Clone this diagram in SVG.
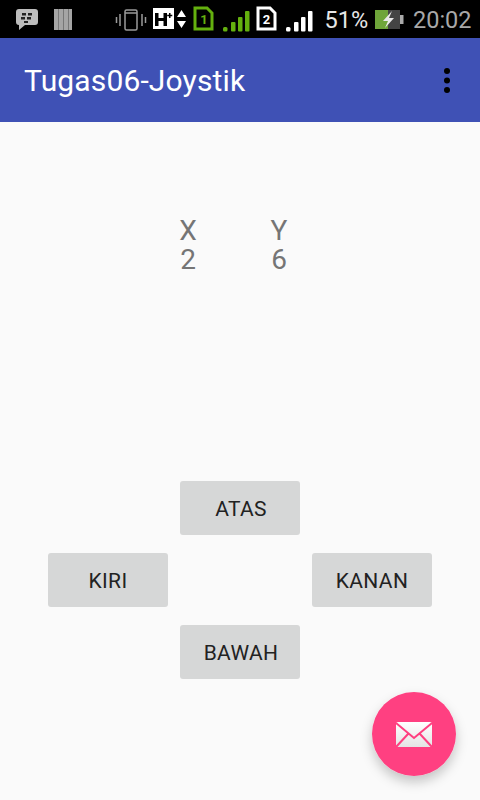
<svg xmlns="http://www.w3.org/2000/svg" width="480" height="800" viewBox="0 0 480 800">
<style>
text{font-family:Roboto,"Liberation Sans",sans-serif}
.btn{fill:#d6d7d7}
.bt{font-size:21px;fill:#222;text-anchor:middle;letter-spacing:.35px}
.val{font-size:28px;fill:#757575;text-anchor:middle}
.st{fill:#fff}
.g{fill:#64b00e}
</style>
<defs>
<filter id="sh" x="-30%" y="-30%" width="160%" height="170%"><feDropShadow dx="0" dy="6" stdDeviation="6" flood-color="#000" flood-opacity=".22"/></filter>
<linearGradient id="env" x1="0" y1="0" x2="0" y2="1"><stop offset="0" stop-color="#fff"/><stop offset="1" stop-color="#e4e4e4"/></linearGradient>
</defs>
<rect width="480" height="800" fill="#fafafa"/>
<g id="statusbar">
<rect width="480" height="38" fill="#000"/>
<path d="M19 9h16q3 0 3 3v10q0 3-3 3H25l-6 5v-5q-3 0-3-3V12q0-3 3-3z" fill="#bdbdbd"/>
<g fill="#222"><rect x="22" y="13" width="4" height="2.500"/><rect x="28" y="13" width="4" height="2.500"/><rect x="21" y="17" width="4" height="2.500"/><rect x="27" y="17" width="4" height="2.500"/><rect x="24" y="21" width="4" height="2"/></g>
<rect x="54" y="9" width="18" height="21" fill="#a5a5a5"/>
<g fill="#777"><rect x="58" y="9" width="1" height="21"/><rect x="63" y="9" width="1" height="21"/><rect x="68" y="9" width="1" height="21"/></g>
<g fill="none" stroke="#9a9a9a" stroke-width="1.500"><rect x="125" y="10" width="12" height="20" rx="1.500"/><path d="M120 14v12M116.500 17v6M142 14v12M145.500 17v6"/><path d="M125 13h12"/></g>
<rect x="153" y="8" width="21" height="21" fill="#fff"/>
<path d="M155 13h3.500v5h5v-5h3.500v13h-3.500v-5h-5v5H155z" fill="#000"/>
<path d="M169 13h1.500v1.800h1.800v1.500h-1.800v1.800H169v-1.800h-1.800v-1.500h1.800z" fill="#000"/>
<path d="M181.500 10l4.500 7h-9zM181.500 28l4.500-7h-9z" class="st"/>
<path d="M195 8h12l5 5v16h-17z" fill="none" stroke="#64b00e" stroke-width="3"/>
<text x="204" y="24" font-size="13" font-weight="700" class="g" text-anchor="middle">1</text>
<rect x="223" y="27" width="4.500" height="4.500" rx="1.500" class="g"/><rect x="231" y="22" width="4.500" height="9.500" rx="1" class="g"/><rect x="238" y="17" width="4.500" height="14.500" rx="1" class="g"/><rect x="245" y="11" width="4.500" height="20.500" rx="1" class="g"/>
<path d="M258 8h12l5 5v16h-17z" fill="#000" stroke="#fff" stroke-width="3"/>
<text x="266.500" y="24" font-size="13" font-weight="700" fill="#fff" text-anchor="middle">2</text>
<rect x="286" y="27" width="4.500" height="4.500" rx="1.500" class="st"/><rect x="294" y="22" width="4.500" height="9.500" rx="1" class="st"/><rect x="301" y="17" width="4.500" height="14.500" rx="1" class="st"/><rect x="308" y="11" width="4.500" height="20.500" rx="1" class="st"/>
<text x="324.500" y="28" font-size="23.500" fill="#e6e6e6">51%</text>
<rect x="375" y="10" width="13" height="19" fill="#6fa53a"/><rect x="388" y="10" width="12" height="19" fill="#444"/><rect x="400" y="15" width="3.500" height="9" fill="#aaa"/>
<path d="M392 11l-9 10h5l-3 7 9-10h-5z" fill="#e8e8e8"/>
<text x="413" y="28" font-size="23.500" fill="#a8a8a8">20:02</text>
</g>
<g id="appbar">
<rect y="38" width="480" height="84" fill="#3f51b5"/>
<text x="24" y="91" font-size="30" fill="#fff" letter-spacing=".14">Tugas06-Joystik</text>
<circle cx="447" cy="71" r="3" fill="#000"/><circle cx="447" cy="80.500" r="3" fill="#000"/><circle cx="447" cy="90" r="3" fill="#000"/>
</g>
<g id="labels">
<text x="188" y="240" class="val">X</text><text x="279" y="240" class="val">Y</text>
<text x="188" y="269" class="val">2</text><text x="279" y="269" class="val">6</text>
</g>
<g id="btn-atas"><rect x="180" y="481" width="120" height="54" rx="3" class="btn"/><text x="241" y="516" class="bt">ATAS</text></g>
<g id="btn-kiri"><rect x="48" y="553" width="120" height="54" rx="3" class="btn"/><text x="108" y="588" class="bt">KIRI</text></g>
<g id="btn-kanan"><rect x="312" y="553" width="120" height="54" rx="3" class="btn"/><text x="372" y="588" class="bt">KANAN</text></g>
<g id="btn-bawah"><rect x="180" y="625" width="120" height="54" rx="3" class="btn"/><text x="241" y="660" class="bt">BAWAH</text></g>
<g id="fab">
<circle cx="414" cy="734" r="42" fill="#ff4081" filter="url(#sh)"/>
<rect x="396" y="722" width="36" height="25" rx="2" fill="url(#env)"/>
<path d="M396 723l18 15 18-15M396 747l12-13M432 747l-12-13" fill="none" stroke="#ff4081" stroke-width="2"/>
</g>
</svg>
